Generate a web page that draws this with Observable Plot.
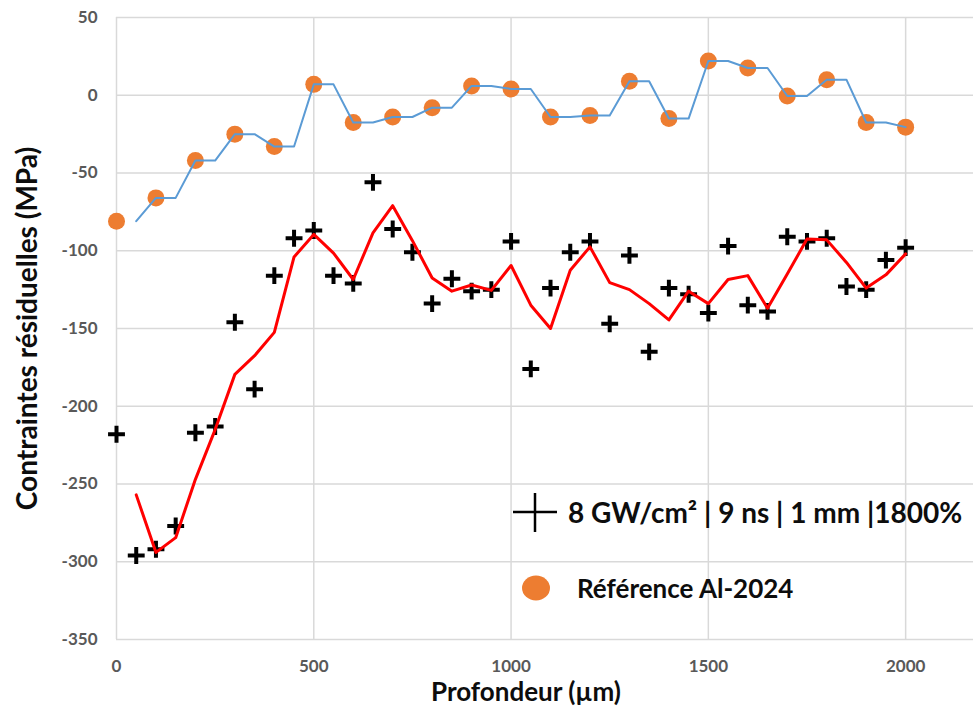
<!DOCTYPE html>
<html><head><meta charset="utf-8">
<script src="https://cdn.jsdelivr.net/npm/d3@7"></script>
<script src="https://cdn.jsdelivr.net/npm/@observablehq/plot@0.6"></script>
<style>
body{margin:0;background:#fff;}
#wrap{position:relative;width:973px;height:708px;font-family:Lato, sans-serif;}
#legend{position:absolute;left:0;top:0;pointer-events:none;}
</style></head><body><div id="wrap"></div>
<script>
// Measured series: 8 GW/cm² | 9 ns | 1 mm | 1800%
const crossDepth = [0,50,100,150,200,250,300,350,400,450,500,550,600,650,700,750,800,850,900,950,1000,1050,1100,1150,1200,1250,1300,1350,1400,1450,1500,1550,1600,1650,1700,1750,1800,1850,1900,1950,2000];
const crossStress = [-218,-296,-292,-277,-217,-213,-146,-189,-116,-92,-87,-116,-121,-56,-86,-101,-134,-118,-126,-125,-94,-176,-124,-101,-94,-147,-103,-165,-124,-128,-140,-97,-135,-139,-91,-94,-92,-123,-125,-106,-98];
// Red trend line (moving average as drawn)
const trendDepth = [50,100,150,200,250,300,350,400,450,500,550,600,650,700,750,800,850,900,950,1000,1050,1100,1150,1200,1250,1300,1350,1400,1450,1500,1550,1600,1650,1700,1750,1800,1850,1900,1950,2000];
const trendStress = [-257,-294,-284.5,-247,-215,-179.5,-167.5,-152.5,-104,-89.5,-101.5,-118.5,-88.5,-71,-93.5,-117.5,-126,-122,-125.5,-109.5,-135,-150,-112.5,-97.5,-120.5,-125,-134,-144.5,-126,-134,-118.5,-116,-137,-115,-92.5,-93,-107.5,-124,-115.5,-102];
// Reference Al-2024
const refDepth = [0,100,200,300,400,500,600,700,800,900,1000,1100,1200,1300,1400,1500,1600,1700,1800,1900,2000];
const refStress = [-81,-66,-42,-25,-33,7,-17.5,-14,-8,6,4,-14,-13,9,-15,22,17.5,-0.5,10,-17.5,-20.5];
// Blue trend line (as drawn)
const refTrendStress = [-81,-66,-66,-42,-42,-25,-25,-33,-33,7,7,-17.5,-17.5,-14,-14,-8,-8,6,6,4,4,-14,-14,-13,-13,9,9,-15,-15,22,22,17.5,17.5,-0.5,-0.5,10,10,-17.5,-17.5,-20.5];
const xTicks = [0,500,1000,1500,2000];
const yTicks = [-350,-300,-250,-200,-150,-100,-50,0,50];
const xTitle = "Profondeur (µm)";
const yTitle = "Contraintes résiduelles (MPa)";
const legendLabels = ["8 GW/cm² | 9 ns | 1 mm |1800%", "Référence Al-2024"];

const cross = crossDepth.map((d,i)=>({d, s: crossStress[i]}));
const trend = trendDepth.map((d,i)=>({d, s: trendStress[i]}));
const ref = refDepth.map((d,i)=>({d, s: refStress[i]}));
const refTrend = trendDepth.map((d,i)=>({d, s: refTrendStress[i]}));
const fmt = d => String(d);

const chart = Plot.plot({
  width: 973, height: 708,
  marginLeft: 116, marginRight: 0, marginTop: 17, marginBottom: 69,
  style: {fontFamily: "Lato, sans-serif", background: "transparent", overflow: "visible"},
  x: {domain: [0, 2172]},
  y: {domain: [-350, 50]},
  marks: [
    Plot.gridY(yTicks, {stroke: "#d9d9d9", strokeOpacity: 1, strokeWidth: 1.5}),
    Plot.gridX(xTicks, {stroke: "#d9d9d9", strokeOpacity: 1, strokeWidth: 1.5}),
    Plot.axisY(yTicks, {tickSize: 0, tickPadding: 19, tickFormat: fmt, fontSize: 17, fontWeight: "bold", fill: "#595959", label: null}),
    Plot.axisX(xTicks, {tickSize: 0, tickPadding: 20, tickFormat: fmt, fontSize: 17, fontWeight: "bold", fill: "#595959", label: null}),
    Plot.dot(ref, {x: "d", y: "s", r: 8.5, fill: "#ED7D31"}),
    Plot.line(refTrend, {x: "d", y: "s", stroke: "#5B9BD5", strokeWidth: 2}),
    Plot.dot(cross, {x: "d", y: "s", symbol: "plus", r: 5.5, stroke: "#000", strokeWidth: 4}),
    Plot.line(trend, {x: "d", y: "s", stroke: "#FF0000", strokeWidth: 3}),
    Plot.text([xTitle], {frameAnchor: "bottom", textAnchor: "middle", lineAnchor: "middle", dx: -19, dy: 53, fontSize: 26, fontWeight: "bold", fill: "#0d0d0d"}),
    Plot.text([yTitle], {frameAnchor: "left", textAnchor: "middle", lineAnchor: "middle", rotate: -90, dx: -88, fontSize: 28, fontWeight: "bold", fill: "#0d0d0d"})
  ]
});
const wrap = document.getElementById("wrap");
wrap.appendChild(chart);

// Legend overlay (inside plot area)
const ns = "http://www.w3.org/2000/svg";
const lg = document.createElementNS(ns, "svg");
lg.setAttribute("id", "legend");
lg.setAttribute("width", 973); lg.setAttribute("height", 708);
lg.innerHTML = `
  <line x1="513" y1="512" x2="557" y2="512" stroke="#000" stroke-width="2.5"/>
  <line x1="535" y1="493" x2="535" y2="532" stroke="#000" stroke-width="2.5"/>
  <text x="568" y="512" dominant-baseline="central" font-family="Lato, sans-serif" font-weight="bold" font-size="28" fill="#0d0d0d">${legendLabels[0]}</text>
  <ellipse cx="536" cy="588" rx="14" ry="12.5" fill="#ED7D31"/>
  <text x="577" y="588" dominant-baseline="central" font-family="Lato, sans-serif" font-weight="bold" font-size="26" fill="#0d0d0d">${legendLabels[1]}</text>
`;
wrap.appendChild(lg);
</script>
</body></html>
